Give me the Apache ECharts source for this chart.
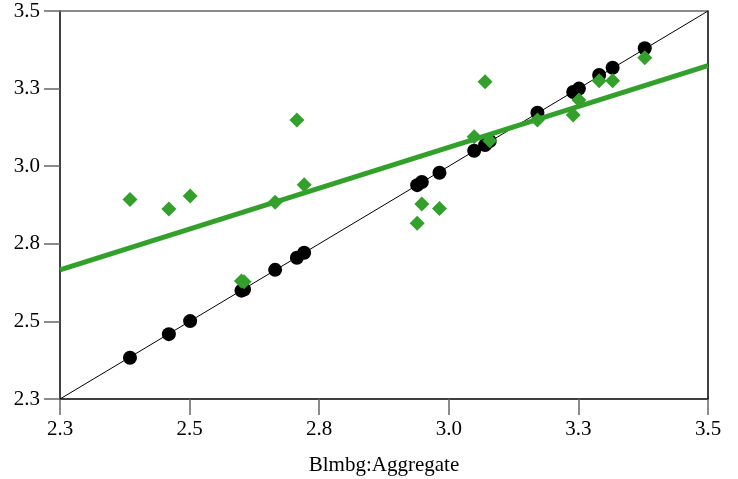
<!DOCTYPE html>
<html>
<head>
<meta charset="utf-8">
<script src="https://cdn.jsdelivr.net/npm/echarts@6/dist/echarts.min.js"></script>
<style>
html,body{margin:0;padding:0;background:#fff;}
#c{width:738px;height:479px;}
</style>
</head>
<body>
<div id="c"></div>
<script>
// Data
const xValues     = [2.385, 2.460, 2.501, 2.600, 2.605, 2.665, 2.707, 2.721, 2.939, 2.948, 2.982, 3.049, 3.070, 3.079, 3.171, 3.240, 3.251, 3.290, 3.316, 3.378];
const blackValues = [2.383, 2.459, 2.501, 2.599, 2.603, 2.666, 2.705, 2.721, 2.939, 2.949, 2.979, 3.050, 3.068, 3.081, 3.172, 3.239, 3.250, 3.294, 3.317, 3.380];
const greenValues = [2.893, 2.862, 2.904, 2.630, 2.628, 2.884, 3.149, 2.940, 2.816, 2.878, 2.864, 3.095, 3.272, 3.082, 3.149, 3.165, 3.213, 3.275, 3.275, 3.349];
const fitLineX = [2.25, 3.5];
const fitLineY = [2.666, 3.324];
const diagX = [2.25, 3.5];
const diagY = [2.25, 3.5];
const tickValues = [2.25, 2.5, 2.75, 3.0, 3.25, 3.5];
const tickLabels = ["2.3", "2.5", "2.8", "3.0", "3.3", "3.5"];
const xAxisName = "Blmbg:Aggregate";

const GREEN = '#33a02c';
const FONT = 'Liberation Serif';

function fmt(v){
  for (let i = 0; i < tickValues.length; i++) {
    if (Math.abs(tickValues[i] - v) < 1e-6) return tickLabels[i];
  }
  return '';
}

const blackData = xValues.map((x, i) => [x, blackValues[i]]);
const greenData = xValues.map((x, i) => [x, greenValues[i]]);
const fitData = fitLineX.map((x, i) => [x, fitLineY[i]]);
const diagData = diagX.map((x, i) => [x, diagY[i]]);

const chart = echarts.init(document.getElementById('c'), null, {renderer: 'canvas'});
const axisCommon = {
  type: 'value',
  min: tickValues[0],
  max: tickValues[tickValues.length - 1],
  interval: 0.25,
  splitLine: {show: false}
};
chart.setOption({
  animation: false,
  backgroundColor: '#fff',
  grid: {left: 60, right: 30, top: 11, bottom: 80, containLabel: false, outerBoundsMode: 'none'},
  xAxis: [
    Object.assign({}, axisCommon, {
      position: 'bottom',
      name: xAxisName,
      nameLocation: 'middle',
      nameGap: 56,
      nameTextStyle: {fontFamily: FONT, fontSize: 21, color: '#000'},
      axisLine: {show: true, onZero: false, lineStyle: {color: '#000', width: 1.5}},
      axisTick: {show: true, inside: false, length: 16, lineStyle: {color: '#666', width: 1.5}},
      axisLabel: {show: true, margin: 20, formatter: fmt, fontFamily: FONT, fontSize: 21, color: '#000'}
    }),
    Object.assign({}, axisCommon, {
      position: 'top',
      axisLine: {show: true, onZero: false, lineStyle: {color: '#666', width: 1.5}},
      axisTick: {show: false},
      axisLabel: {show: false}
    })
  ],
  yAxis: [
    Object.assign({}, axisCommon, {
      position: 'left',
      axisLine: {show: true, onZero: false, lineStyle: {color: '#000', width: 1.5}},
      axisTick: {show: true, inside: false, length: 16, lineStyle: {color: '#666', width: 1.5}},
      axisLabel: {show: true, margin: 20, formatter: fmt, fontFamily: FONT, fontSize: 21, color: '#000'}
    }),
    Object.assign({}, axisCommon, {
      position: 'right',
      axisLine: {show: true, onZero: false, lineStyle: {color: '#000', width: 1.5}},
      axisTick: {show: false},
      axisLabel: {show: false}
    })
  ],
  series: [
    {
      type: 'line', data: diagData, symbol: 'none', silent: true,
      lineStyle: {color: '#000', width: 1}, z: 1
    },
    {
      type: 'scatter', data: blackData, symbol: 'circle', symbolSize: 14,
      itemStyle: {color: '#000', opacity: 1}, z: 2
    },
    {
      type: 'scatter', data: greenData, symbol: 'diamond', symbolSize: [15, 15],
      itemStyle: {color: GREEN, opacity: 1}, z: 3
    },
    {
      type: 'line', data: fitData, symbol: 'none', silent: true,
      lineStyle: {color: GREEN, width: 5}, z: 4
    }
  ]
});
</script>
</body>
</html>
